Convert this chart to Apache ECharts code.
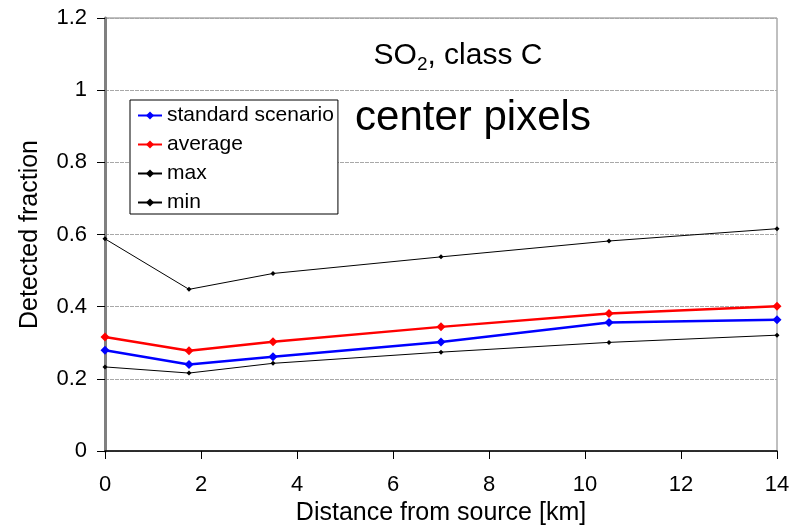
<!DOCTYPE html>
<html>
<head>
<meta charset="utf-8">
<script src="https://cdn.jsdelivr.net/npm/echarts@6/dist/echarts.min.js"></script>
<style>html,body{margin:0;padding:0;background:#fff}#c{width:800px;height:525px}</style>
</head>
<body>
<div id="c"></div>
<script>
var distances = [0, 1.75, 3.5, 7, 10.5, 14];
var standardScenario = [0.279, 0.240, 0.261, 0.302, 0.356, 0.364];
var average = [0.316, 0.278, 0.303, 0.344, 0.381, 0.401];
var maxVals = [0.588, 0.448, 0.492, 0.538, 0.582, 0.616];
var minVals = [0.233, 0.216, 0.243, 0.274, 0.301, 0.321];
var seriesNames = ['standard scenario', 'average', 'max', 'min'];
var xTicks = [0, 2, 4, 6, 8, 10, 12, 14];
var yTicks = [0, 0.2, 0.4, 0.6, 0.8, 1, 1.2];

function pairs(ys) { return distances.map(function (d, i) { return [d, ys[i]]; }); }
var FONT = 'Liberation Sans, Arial, sans-serif';

var chart = echarts.init(document.getElementById('c'), null, {renderer: 'canvas'});
chart.setOption({
  animation: false,
  backgroundColor: '#ffffff',
  textStyle: {fontFamily: FONT},
  grid: {left: 105, right: 23, top: 18, bottom: 74, show: true, borderColor: '#808080', borderWidth: 1,
         backgroundColor: 'transparent', containLabel: false, outerBoundsMode: 'none'},
  xAxis: {
    type: 'value', min: xTicks[0], max: xTicks[xTicks.length - 1], interval: 2,
    name: 'Distance from source [km]', nameLocation: 'middle', nameGap: 43,
    nameTextStyle: {fontSize: 25, color: '#000', fontFamily: FONT},
    axisLine: {show: true, lineStyle: {color: '#000', width: 1.5}},
    axisTick: {show: true, length: 8, lineStyle: {color: '#000'}},
    axisLabel: {fontSize: 22, color: '#000', margin: 23, fontFamily: FONT},
    splitLine: {show: false}
  },
  yAxis: {
    type: 'value', min: yTicks[0], max: yTicks[yTicks.length - 1], interval: 0.2,
    name: 'Detected fraction', nameLocation: 'middle', nameGap: 62,
    nameTextStyle: {fontSize: 25, color: '#000', fontFamily: FONT},
    axisLine: {show: true, lineStyle: {color: '#808080', width: 3}},
    axisTick: {show: true, length: 8, lineStyle: {color: '#000'}},
    axisLabel: {fontSize: 22, color: '#000', margin: 18, fontFamily: FONT,
      formatter: function (v) { return String(Math.round(v * 10) / 10); }},
    splitLine: {show: true, lineStyle: {color: '#a8a8a8', width: 1, type: [4, 1]}}
  },
  legend: {
    orient: 'vertical', left: 130, top: 100,
    data: seriesNames,
    backgroundColor: '#fff', borderColor: '#000', borderWidth: 1,
    padding: [5, 4, 1, 7], itemGap: 8, itemWidth: 24, itemHeight: 10,
    textStyle: {fontSize: 21, color: '#000', fontFamily: FONT, lineHeight: 21}
  },
  graphic: [
    {type: 'text', x: 458, y: 56, z: 10, style: {
      text: '{n|SO}{s|2}{n|, class C}', textAlign: 'center', textVerticalAlign: 'middle',
      rich: {
        n: {fontSize: 30, fontFamily: FONT, fill: '#000', lineHeight: 36, verticalAlign: 'middle'},
        s: {fontSize: 19, fontFamily: FONT, fill: '#000', lineHeight: 19, verticalAlign: 'bottom'}
      }
    }},
    {type: 'text', x: 473, y: 118, z: 10, style: {
      text: 'center pixels', textAlign: 'center', textVerticalAlign: 'middle',
      font: '42px ' + FONT, fill: '#000'
    }}
  ],
  series: [
    {name: seriesNames[0], type: 'line', data: pairs(standardScenario), color: '#0000ff',
     lineStyle: {width: 2.5, color: '#0000ff'}, symbol: 'diamond', symbolSize: 9,
     itemStyle: {color: '#0000ff'}, z: 4},
    {name: seriesNames[1], type: 'line', data: pairs(average), color: '#ff0000',
     lineStyle: {width: 2.5, color: '#ff0000'}, symbol: 'diamond', symbolSize: 9,
     itemStyle: {color: '#ff0000'}, z: 4},
    {name: seriesNames[2], type: 'line', data: pairs(maxVals), color: '#000000',
     lineStyle: {width: 1, color: '#000'}, symbol: 'diamond', symbolSize: 5,
     itemStyle: {color: '#000'}, z: 3},
    {name: seriesNames[3], type: 'line', data: pairs(minVals), color: '#000000',
     lineStyle: {width: 1, color: '#000'}, symbol: 'diamond', symbolSize: 5,
     itemStyle: {color: '#000'}, z: 3}
  ]
});
</script>
</body>
</html>
